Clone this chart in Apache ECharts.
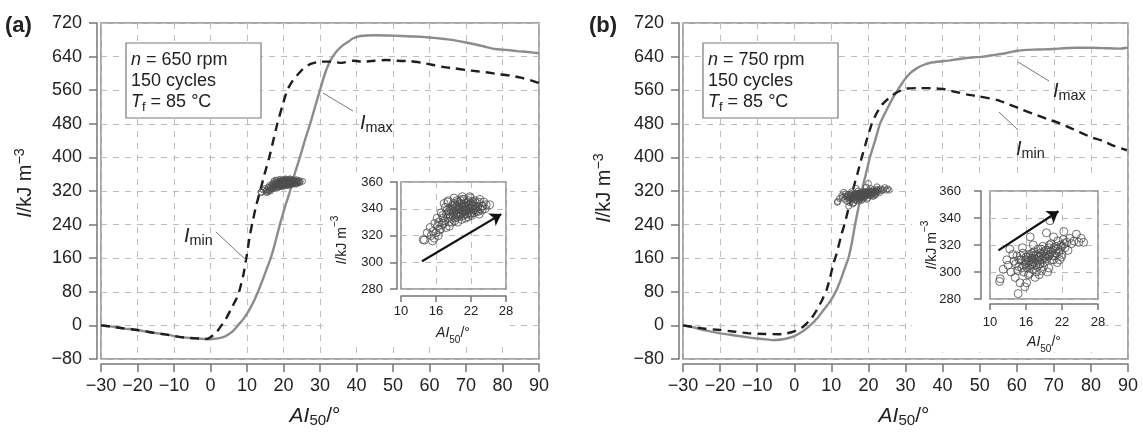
<!DOCTYPE html>
<html>
<head>
<meta charset="utf-8">
<script src="https://cdn.jsdelivr.net/npm/echarts@6/dist/echarts.min.js"></script>
<style>
html, body { margin: 0; padding: 0; background: #fff; }
#chart { width: 1143px; height: 433px; }
</style>
</head>
<body>
<div id="chart"></div>
<script>
// ---- data: [AI50, I] ----
var imaxA = [[-30,0],[-27,-3],[-24,-7],[-20,-11],[-16,-17],[-12,-22],[-8,-28],[-4,-31],[-1,-33],[2,-31],[4,-26],[6,-15],[7.5,0],[9,15],[10.5,35],[12,60],[13,80],[14,102],[15,125],[16.5,160],[17.5,190],[19,240],[20.5,285],[21.8,320],[23.2,365],[24.5,400],[26,445],[27.3,480],[28.7,522],[30,560],[31.3,598],[32.7,628],[34.5,652],[36,665],[37.5,674],[39,683],[41,689],[45,691],[50,690],[55,688],[58,687],[62,684],[65,681],[68,677],[72,670],[75,664],[78,658],[81,656],[84,653],[87,651],[90,648]];
var iminA = [[-30,0],[-27,-3],[-24,-7],[-20,-11],[-16,-17],[-12,-22],[-8,-28],[-4,-31],[-1,-32],[0,-28],[1.5,-18],[3,0],[4.5,20],[6,45],[7.2,65],[8,85],[9,120],[9.9,165],[10.8,215],[11.5,245],[12.5,285],[13.6,320],[14.8,360],[16.1,400],[17.2,440],[18.3,480],[19.6,520],[21,560],[22.3,580],[23.6,594],[25.3,610],[27.3,622],[30,628],[33,628],[36,625],[39,630],[42,628],[45,630],[48,632],[51,630],[55,629],[58,625],[61,620],[64,615],[67,612],[70,608],[73,605],[76,602],[79,598],[82,595],[85,590],[88,583],[90,577]];
var imaxB = [[-30,0],[-27,-5],[-24,-12],[-20,-19],[-16,-24],[-12,-29],[-8,-33],[-5.7,-35],[-3,-33],[-0.3,-27],[2,-16],[4.3,0],[6.5,20],[8,38],[9.6,56],[11.4,84],[12.8,115],[14.1,148],[14.6,160],[15.5,195],[16.4,240],[17.3,280],[18.2,320],[19.3,360],[20.4,400],[21.8,440],[23.1,480],[24.9,513],[26.5,540],[28,562],[29.5,582],[31.2,600],[33,612],[34.8,620],[37,626],[40,629],[42,631],[45,635],[48,638],[51,640],[54,644],[57,648],[60,654],[63,656],[66,657],[70,658],[72.6,660],[76,661],[80,661],[84,660],[88,659],[90,661]];
var iminB = [[-30,0],[-27,-4],[-24,-8],[-20,-11],[-16,-15],[-12,-19],[-8,-20.5],[-4,-21],[-2,-19],[0,-14],[2.4,-3],[4.5,15],[6.1,37],[7.5,60],[8.7,84],[9.7,115],[10.5,145],[11.4,170],[12.8,219],[13.7,245],[14.8,285],[15.9,325],[17,360],[18.2,400],[19.5,440],[20.9,480],[22.2,505],[23.6,525],[25,537],[26.3,547],[27.5,554],[29,560],[30.3,564],[33,565],[36,565],[40.2,563],[43,557],[46.5,550],[50,545],[54.6,537],[58,526],[61.7,513],[65,502],[68,492],[71.7,481],[75,468],[79.8,449],[83,440],[86,428],[89.7,417]];

// cycle-by-cycle points, same set in main plot and inset
var cyclesA = [[13.8,317],[14.0,316.5],[14.5,322],[15.7,318],[15.2,320],[15.5,323],[15.0,326],[16.0,322],[16.3,327],[16.8,325],[16.5,330],[17.0,328],[17.2,333],[17.5,331],[17.8,336],[17.6,341],[18.0,345],[18.2,338],[18.5,334],[18.7,330],[18.9,340],[19.0,337],[19.2,343],[19.3,333],[19.5,339],[19.6,346],[19.8,335],[20.0,341],[20.1,337],[20.3,344],[20.4,332],[20.6,339],[20.8,347],[20.9,336],[21.0,342],[21.2,338],[21.4,345],[21.5,334],[21.7,340],[21.9,348],[22.0,337],[22.2,343],[22.4,339],[22.6,346],[22.8,341],[23.0,344],[23.2,338],[23.5,347],[23.8,342],[24.2,345],[24.6,343],[25.2,343],[18.1,346],[17.4,344],[19.1,348],[20.5,349],[21.8,349],[16.9,337],[16.2,333],[15.8,329],[18.3,327],[19.7,330],[21.1,333],[22.1,335],[23.4,336],[17.7,326],[18.8,342],[20.2,346],[21.3,336],[19.4,336],[20.7,343],[22.7,339],[23.9,339],
    [18.4,336],[18.6,339],[18.9,335],[19.1,338],[19.3,341],[19.5,334],[19.7,337],[19.9,340],[20.1,343],[20.3,336],[20.5,339],[20.7,335],[20.9,341],[21.1,344],[21.3,339],[21.5,337],[21.7,343],[21.9,336],[22.1,340],[22.3,345],[22.5,337],[22.7,342],[22.9,338],[23.1,341],[23.3,345],[19.0,344],[19.6,342],[20.4,347],[21.6,346],[22.0,344],[18.0,333],[18.2,330],[17.3,329],[16.6,324],[17.9,339],[20.0,334],[20.8,338],[21.4,341],[22.3,342],[23.6,340],[24.0,342],[24.4,340],[19.8,345],[20.6,341],[21.0,339],[18.5,340],[19.2,331],[17.1,335],[16.4,320],[15.4,316]];
var cyclesB = [[11.6,293],[11.7,295],[12.2,302],[13.3,317],[13.0,305],[13.5,300],[14.0,308],[14.2,296],[14.5,312],[14.7,284],[14.8,304],[15.0,292],[15.2,309],[15.5,314],[15.6,300],[15.8,289],[15.9,306],[16.0,311],[16.2,303],[16.4,298],[16.5,308],[16.7,326],[16.8,313],[16.9,305],[17.0,310],[17.1,302],[17.3,315],[17.4,307],[17.5,296],[17.6,312],[17.8,309],[17.9,304],[18.0,317],[18.1,311],[18.3,306],[18.4,314],[18.6,301],[18.7,309],[18.8,319],[19.0,312],[19.1,307],[19.3,316],[19.4,329],[19.5,310],[19.6,300],[19.8,318],[20.0,313],[20.0,338],[20.2,321],[20.3,309],[20.5,316],[20.6,326],[20.8,312],[21.0,319],[21.2,307],[21.3,323],[21.5,315],[21.8,320],[22.0,313],[22.2,324],[22.5,318],[22.8,322],[23.0,316],[23.3,325],[23.6,321],[24.0,323],[24.4,328],[24.8,322],[25.2,325],[25.6,322],[13.8,313],[14.3,306],[12.8,309],[18.2,298],[15.4,318],[16.1,292],[19.8,303],[21.6,309],[17.2,320],[22.3,330],
    [15.6,305],[15.9,309],[16.1,307],[16.3,311],[16.6,305],[16.8,309],[17.0,306],[17.2,312],[17.4,310],[17.6,305],[17.8,313],[18.0,308],[18.2,311],[18.4,306],[18.6,313],[18.8,310],[19.0,315],[19.2,311],[19.4,313],[19.6,316],[19.8,312],[20.1,315],[20.4,312],[20.7,318],[21.0,314],[21.3,317],[21.6,316],[22.0,319],[22.4,321],[17.1,314],[16.4,313],[15.3,303],[14.9,309],[18.5,317],[19.9,320],[17.7,300],[16.6,299],[18.9,304],[20.6,309],[21.9,311],[14.6,301],[15.1,312]];

// trend arrows in the insets
var arrowA = [[13.6,300.7],[27.2,336]];
var arrowB = [[11.4,316],[21.4,345]];

// axis ranges
var mainX = {min: -30, max: 90, step: 10};
var mainY = {min: -80, max: 720, step: 80};
var insetX = {min: 10, max: 28, step: 6};
var insetY = {min: 280, max: 360, step: 20};

var FONT = '"Liberation Sans", Arial, Helvetica, sans-serif';
var INK = '#222';
var AXIS = '#777';

function minus(v) { return String(v).replace('-', '\u2212'); }

function axisOf(gi, r, o) {
    return {
        gridIndex: gi, type: 'value', min: r.min, max: r.max, interval: r.step,
        offset: o.offset, z: o.z || 0,
        axisLine: {show: true, onZero: false, lineStyle: {color: AXIS, width: 1.5}},
        axisTick: {show: true, length: o.tick, lineStyle: {color: AXIS, width: 1.5}},
        axisLabel: {fontSize: o.font, color: INK, fontFamily: FONT, margin: o.margin, formatter: minus},
        splitLine: {show: true, lineStyle: {color: '#bdbdbd', width: 1, type: [6, 6]}}
    };
}

var grids = [
    {left: 101, top: 23, width: 438, height: 336},
    {left: 683, top: 23, width: 445, height: 336},
    {left: 401, top: 182, width: 105, height: 107},
    {left: 990, top: 191, width: 108, height: 108}
];
grids.forEach(function (g, i) {
    g.show = true;
    g.borderColor = '#8a8a8a';
    g.borderWidth = 1.5;
    g.z = i < 2 ? 0 : 10;
    g.backgroundColor = i < 2 ? 'transparent' : '#fff';
});

var mainXo = {offset: 5, tick: 8, font: 18, margin: 13};
var mainYo = {offset: 4, tick: 8, font: 18, margin: 15};

var xAxes = [
    axisOf(0, mainX, mainXo),
    axisOf(1, mainX, mainXo),
    axisOf(2, insetX, {offset: 7, tick: 6, font: 13, margin: 9, z: 10}),
    axisOf(3, insetX, {offset: 5, tick: 6, font: 13, margin: 12, z: 10})
];
var yAxes = [
    axisOf(0, mainY, mainYo),
    axisOf(1, mainY, mainYo),
    axisOf(2, insetY, {offset: 4, tick: 7, font: 13, margin: 14, z: 10}),
    axisOf(3, insetY, {offset: 9, tick: 7, font: 13, margin: 20, z: 10})
];

function maxLine(i, data) {
    return {type: 'line', xAxisIndex: i, yAxisIndex: i, data: data, showSymbol: false, smooth: 0.15,
        lineStyle: {color: '#8c8c8c', width: 2.4}, z: 3};
}
function minLine(i, data) {
    return {type: 'line', xAxisIndex: i, yAxisIndex: i, data: data, showSymbol: false, smooth: 0.15,
        lineStyle: {color: '#1e1e1e', width: 2.4, type: [9, 6]}, z: 4};
}
function cloud(i, data, size) {
    return {type: 'scatter', xAxisIndex: i, yAxisIndex: i, data: data, symbol: 'circle', symbolSize: size,
        itemStyle: {color: 'rgba(0,0,0,0)', borderColor: '#4d4d4d', borderWidth: 1}, z: i < 2 ? 5 : 12};
}
function arrow(i, coords) {
    return {type: 'lines', coordinateSystem: 'cartesian2d', xAxisIndex: i, yAxisIndex: i,
        symbol: ['none', 'arrow'], symbolSize: 11,
        lineStyle: {color: '#111', width: 2.2, opacity: 1}, data: [{coords: coords}], z: 13};
}

// text helpers
function tok(size, extra) {
    var t = {fontSize: size, fontFamily: FONT, fill: INK};
    for (var k in extra) t[k] = extra[k];
    return t;
}
function label(x, y, text, rich, o) {
    o = o || {};
    return {type: 'text', x: x, y: y, rotation: o.rot || 0, z: 30,
        style: {text: text, rich: rich, align: o.align || 'left', verticalAlign: o.valign || 'middle',
            fontSize: o.size || 18, fontFamily: FONT, fill: INK, fontWeight: o.weight || 'normal'}};
}
function seg(x1, y1, x2, y2) {
    return {type: 'line', z: 30, shape: {x1: x1, y1: y1, x2: x2, y2: y2}, style: {stroke: '#777', lineWidth: 1}};
}
function sym(size) {
    return {
        n: tok(size, {fontStyle: 'italic', lineHeight: 24}),
        r: tok(size, {lineHeight: 24}),
        sub: tok(size * 0.72, {lineHeight: 12, verticalAlign: 'bottom'}),
        sup: tok(size * 0.72, {lineHeight: 12, verticalAlign: 'top'})
    };
}
var r18 = sym(18), r20 = sym(20), r21 = sym(21), r14 = sym(14);

function infoBox(x, rpm) {
    return [
        {type: 'rect', z: 25, shape: {x: x, y: 43, width: 135, height: 75}, style: {fill: '#fff', stroke: '#7a7a7a', lineWidth: 1.2}},
        label(x + 5, 60, '{n|n}{r| = ' + rpm + ' rpm}', r18),
        label(x + 5, 81, '{r|150 cycles}', r18),
        label(x + 5, 102, '{n|T}{sub|f}{r| = 85 °C}', r18)
    ];
}
function yTitle(x, y, rich) {
    return label(x, y, '{n|I}{r|/kJ m}{sup|\u22123}', rich, {rot: Math.PI / 2, align: 'center'});
}
function xTitle(x, y, rich) {
    return label(x, y, '{n|AI}{sub|50}{r|/°}', rich, {align: 'center'});
}

var graphics = [
    // white patches behind insets
    {type: 'rect', z: 5, shape: {x: 326, y: 172, width: 184, height: 171}, style: {fill: '#fff'}},
    {type: 'rect', z: 5, shape: {x: 912, y: 178, width: 191, height: 174}, style: {fill: '#fff'}},
    label(5, 26, '(a)', null, {size: 22, weight: 'bold'}),
    label(589, 26, '(b)', null, {size: 22, weight: 'bold'}),
    yTitle(25, 183, r20), yTitle(604, 188, r20),
    xTitle(315, 416, r21), xTitle(904, 416, r21),
    yTitle(342, 240, r14), yTitle(932, 245, r14),
    xTitle(453, 333, r14), xTitle(1044, 342, r14),
    label(360, 123, '{n|I}{sub|max}', r20),
    label(184, 236, '{n|I}{sub|min}', r20),
    label(1053, 91, '{n|I}{sub|max}', r20),
    label(1016, 149, '{n|I}{sub|min}', r20),
    seg(323, 93, 353, 111), seg(216, 232, 246, 260),
    seg(1018, 62, 1049, 81), seg(999, 112, 1018, 130)
].concat(infoBox(126, 650), infoBox(703, 750));

var option = {
    animation: false,
    backgroundColor: '#fff',
    textStyle: {fontFamily: FONT},
    grid: grids,
    xAxis: xAxes,
    yAxis: yAxes,
    series: [
        maxLine(0, imaxA), minLine(0, iminA), cloud(0, cyclesA, 6),
        maxLine(1, imaxB), minLine(1, iminB), cloud(1, cyclesB, 6),
        cloud(2, cyclesA, 8), arrow(2, arrowA),
        cloud(3, cyclesB, 8), arrow(3, arrowB)
    ],
    graphic: graphics
};

var chart = echarts.init(document.getElementById('chart'));
chart.setOption(option);
</script>
</body>
</html>
